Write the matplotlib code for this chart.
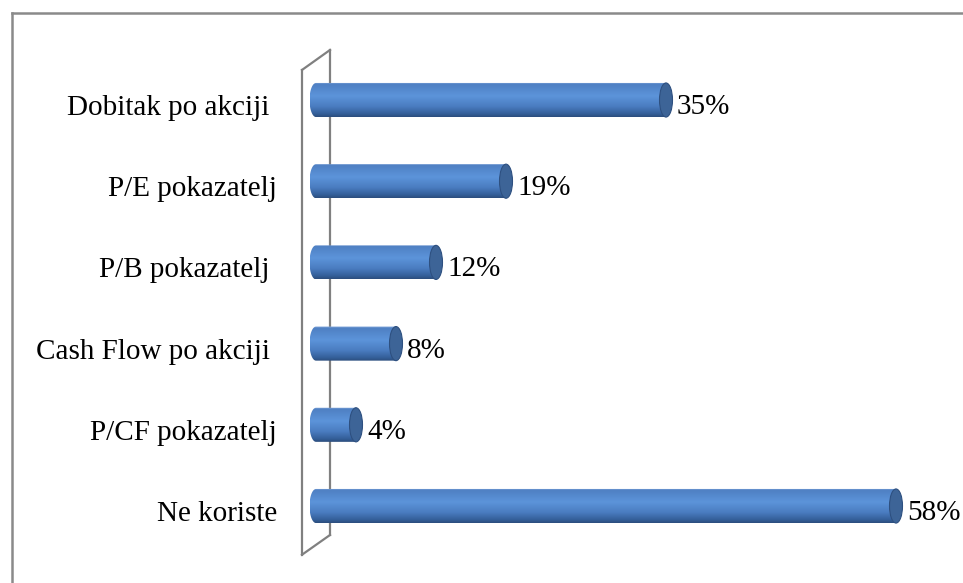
import numpy as np
import matplotlib
matplotlib.use("Agg")
import matplotlib.pyplot as plt
from matplotlib.colors import LinearSegmentedColormap
from matplotlib.patches import Ellipse, PathPatch
from matplotlib.path import Path
from matplotlib.lines import Line2D

plt.rcParams["image.composite_image"] = False

# === data ===
categories = ["Dobitak po akciji ", "P/E pokazatelj", "P/B pokazatelj ",
              "Cash Flow po akciji ", "P/CF pokazatelj", "Ne koriste"]
values = [35, 19, 12, 8, 4, 58]
value_labels = ["35%", "19%", "12%", "8%", "4%", "58%"]

# === style ===
W, H = 963, 583
bar_h = 0.42        # bar thickness in category units
cap_w = 1.3         # end ellipse width in % units
font = "Liberation Serif"
fsize = 21

body_cmap = LinearSegmentedColormap.from_list("cyl", [
    (0.00, "#8fb2e2"),
    (0.06, "#4f80c3"),
    (0.40, "#5c94da"),
    (0.70, "#4a7cc0"),
    (0.90, "#35609a"),
    (1.00, "#2b4d7d"),
])

fig = plt.figure(figsize=(W / 100, H / 100), dpi=100)
# axes spans x from px 290 to right edge, y from px 30 to bottom
ax = fig.add_axes([290 / W, 0, 1 - 290 / W, 1 - 30 / H])
ax.axis("off")

n = len(categories)
grad = np.linspace(0, 1, 256).reshape(-1, 1)
t = np.linspace(np.pi / 2, 3 * np.pi / 2, 40)

for i, (v, lab) in enumerate(zip(values, value_labels)):
    y0, y1 = i - bar_h / 2, i + bar_h / 2
    # body outline: rounded left end + straight body
    ex = (cap_w / 2) * np.cos(t)
    ey = i - (bar_h / 2) * np.sin(t)
    verts = list(zip(ex, ey)) + [(v, y1), (v, y0), (0, y0)]
    clip = PathPatch(Path(verts), facecolor="none", edgecolor="none",
                     transform=ax.transData)
    ax.add_patch(clip)
    im = ax.imshow(grad, cmap=body_cmap, origin="lower", aspect="auto",
                   extent=(-cap_w / 2, v, y0, y1), zorder=3,
                   interpolation="bilinear")
    im.set_clip_path(clip)
    # end cap
    ax.add_patch(Ellipse((v, i), cap_w, bar_h, facecolor="#3d6497",
                         edgecolor="#2e5080", lw=0.8, zorder=4))
    ax.annotate(lab, xy=(v, i), xytext=(11, -7), textcoords="offset pixels",
                ha="left", va="center", fontsize=fsize, family=font, zorder=5)

for i, c in enumerate(categories):
    ax.annotate(c, xy=(0, i), xycoords=("axes fraction", "data"),
                xytext=(-13, -8), textcoords="offset pixels",
                ha="right", va="center", fontsize=fsize, family=font)

ax.set_xlim((290 - 316) / 10, (W - 316) / 10)
ax.set_ylim((H - 100) / 81.2, (30 - 100) / 81.2)

# wall of the 3D frame (drawn after limits are fixed)
wall = dict(color="#808080", lw=1.6, zorder=2)
ax.plot([1.4, 1.4], [-0.616, n - 0.643], **wall)
ax.plot([-1.4, -1.4], [-0.37, n - 0.40], **wall)
ax.plot([-1.4, 1.4], [-0.37, -0.616], **wall)
ax.plot([-1.4, 1.4], [n - 0.40, n - 0.643], **wall)

# chart area border (top and left visible)
fig.add_artist(Line2D([12 / W, 1], [1 - 13 / H, 1 - 13 / H], color="#8a8a8a", lw=1.8))
fig.add_artist(Line2D([12 / W, 12 / W], [0, 1 - 13 / H], color="#8a8a8a", lw=1.8))

fig.savefig("out.png", dpi=100)
